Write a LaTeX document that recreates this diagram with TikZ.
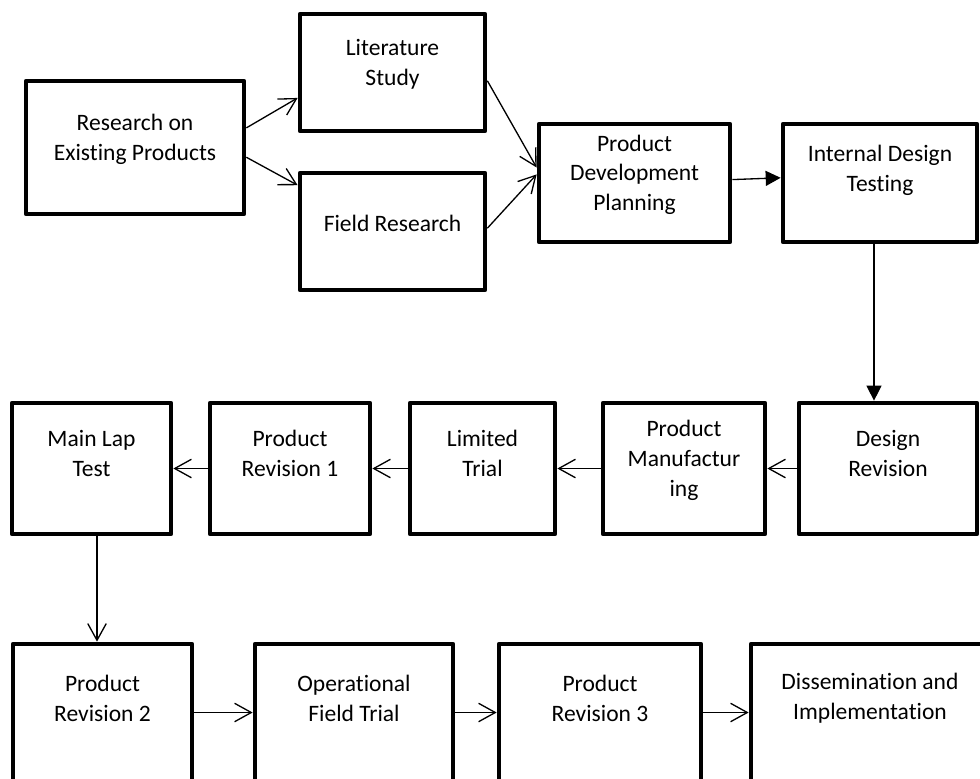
\documentclass[tikz,border=0pt]{standalone}
\usepackage{fontspec}
\setmainfont[RawFeature={-liga;-clig;-calt}]{Carlito}
\usetikzlibrary{arrows.meta,calc,fit,positioning}

\tikzset{
	blk/.style={draw, line width=2.7pt, inner sep=0pt, align=center, line join=round},
	txt/.style={inner sep=0pt, align=center},
	opn/.style={-{Straight Barb[length=9.5pt,width=10.5pt]}, line width=0.75pt},
	tri/.style={-{Triangle[length=8.5pt,width=8.5pt]}, line width=0.75pt}
}

\begin{document}
\begin{tikzpicture}[x=0.02cm,y=-0.02cm,font=\fontsize{13.4}{17}\selectfont]
		\useasboundingbox (0,0) rectangle (980,778);
		\clip (0,0) rectangle (980,778);

		% first row
		\node[blk, fit={(26,81) (244,214)}] (rep) {Research on\\Existing Products};
		\node[blk, fit={(300,14) (485,131)}] (lit) {Literature\\Study};
		\node[blk, fit={(300,173) (485,290)}] (fld) {Field Research};
		\node[blk, fit={(539,124) (730,242)}] (pdp) {Product\\Development\\Planning};
		\node[blk, fit={(783,124) (977,242)}] (idt) {};
		\node[txt] (idt-t) at (880,170) {Internal Design\\Testing};

		% second row
		\node[blk, fit={(12,403) (171,534)}] (mlt) {};
		\node[blk, fit={(210,403) (370,534)}] (pr1) {};
		\node[blk, fit={(410,403) (555,534)}] (ltr) {};
		\node[blk, fit={(603,403) (765,534)}] (pmf) {Product\\Manufactur\\ing};
		\node[blk, fit={(799,403) (977,534)}] (drv) {};
		\node[txt] (mlt-t) at (91.5,453.5) {Main Lap\\Test};
		\node[txt] (pr1-t) at (290,453.5) {Product\\Revision 1};
		\node[txt] (ltr-t) at (482.5,453.5) {Limited\\Trial};
		\node[txt] (drv-t) at (888,453.5) {Design\\Revision};

		% third row
		\node[blk, fit={(13,644) (192,781)}] (pr2) {};
		\node[blk, fit={(255,644) (453,781)}] (oft) {};
		\node[blk, fit={(499,644) (701,781)}] (pr3) {};
		\node[blk, fit={(751,644) (989,781)}] (din) {};
		\node[txt] (pr2-t) at (102.5,698.5) {Product\\Revision 2};
		\node[txt] (oft-t) at (354,698.5) {Operational\\Field Trial};
		\node[txt] (pr3-t) at (600,698.5) {Product\\Revision 3};
		\node[txt] (din-t) at (870,698.5) {Dissemination and\\Implementation};

		% connectors
		\draw[opn] (rep.10) -- (lit.195.1);
		\draw[opn] (rep.-5.4) -- (fld.154.3);
		\draw[opn] (lit.-5.7) -- (pdp.171.3);
		\draw[opn] (fld.2.1) -- (pdp.175.3);
		\draw[tri] (pdp.2.9) -- (idt.177.1);
		\draw[tri] ($(idt.south)+(-6,0)$) -- ($(idt.south |- drv.north)+(-6,0)$);

		\draw[opn] (drv.west) -- (pmf.east);
		\draw[opn] (pmf.west) -- (ltr.east);
		\draw[opn] (ltr.west) -- (pr1.east);
		\draw[opn] (pr1.west) -- (mlt.east);
		\draw[opn] ($(mlt.south)+(5.5,0)$) -- ($(mlt.south |- pr2.north)+(5.5,0)$);

		\draw[opn] (pr2.east) -- (oft.west);
		\draw[opn] (oft.east) -- (pr3.west);
		\draw[opn] (pr3.east) -- (din.west);
	\end{tikzpicture}
\end{document}
